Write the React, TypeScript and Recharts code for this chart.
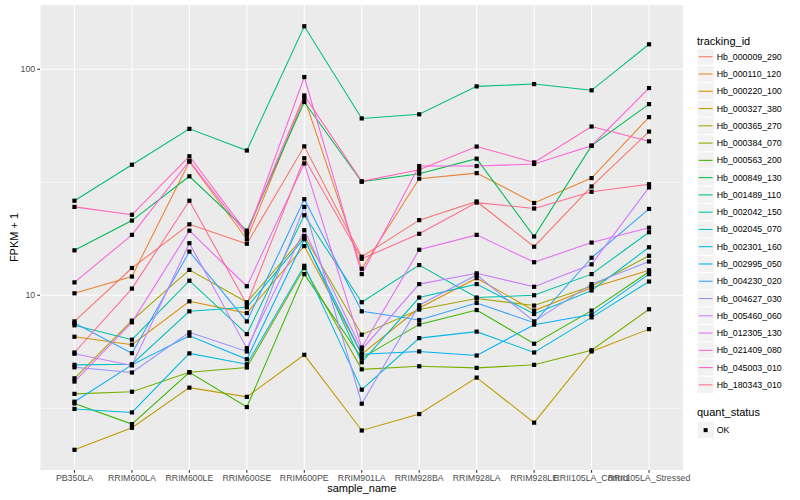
import React from "react";
import {
  LineChart,
  Line,
  XAxis,
  YAxis,
  CartesianGrid,
  Label,
} from "recharts";

const categories = [
  "PB350LA",
  "RRIM600LA",
  "RRIM600LE",
  "RRIM600SE",
  "RRIM600PE",
  "RRIM901LA",
  "RRIM928BA",
  "RRIM928LA",
  "RRIM928LE",
  "RRII105LA_Control",
  "RRII105LA_Stressed",
];

const trackingIds = [
  "Hb_000009_290",
  "Hb_000110_120",
  "Hb_000220_100",
  "Hb_000327_380",
  "Hb_000365_270",
  "Hb_000384_070",
  "Hb_000563_200",
  "Hb_000849_130",
  "Hb_001489_110",
  "Hb_002042_150",
  "Hb_002045_070",
  "Hb_002301_160",
  "Hb_002995_050",
  "Hb_004230_020",
  "Hb_004627_030",
  "Hb_005460_060",
  "Hb_012305_130",
  "Hb_021409_080",
  "Hb_045003_010",
  "Hb_180343_010",
];

const hb000009_290 = [7.66, 13.2, 20.6, 16.9, 45.6, 14.8, 21.5, 26.0, 16.4, 30.3, 53.0];
const hb000110_120 = [10.2, 12.1, 39.0, 17.7, 74.8, 13.1, 32.8, 34.7, 25.6, 33.0, 61.4];
const hb000220_100 = [6.55, 6.04, 9.4, 8.34, 16.5, 5.48, 8.78, 11.9, 8.55, 10.8, 12.9];
const hb000327_380 = [2.07, 2.59, 3.9, 3.55, 5.45, 2.52, 2.98, 4.32, 2.73, 5.64, 7.08];
const hb000365_270 = [4.29, 7.72, 12.95, 9.31, 18.3, 6.69, 8.64, 9.67, 9.0, 10.96, 14.95];
const hb000384_070 = [3.66, 3.74, 4.56, 4.79, 13.2, 4.7, 4.85, 4.77, 4.92, 5.71, 8.67];
const hb000563_200 = [3.32, 2.69, 4.56, 3.2, 12.4, 5.27, 7.43, 8.6, 6.1, 8.55, 12.7];
const hb000849_130 = [15.8, 21.4, 33.6, 19.3, 71.6, 31.8, 34.5, 40.2, 18.2, 45.9, 70.1];
const hb001489_110 = [26.2, 37.8, 54.5, 43.7, 155, 60.6, 63.2, 84, 86, 80.7, 129];
const hb002042_150 = [7.36, 6.36, 11.6, 6.73, 22.6, 9.31, 13.6, 9.77, 10.0, 12.4, 19.0];
const hb002045_070 = [4.92, 4.95, 8.49, 8.84, 17.9, 5.05, 9.77, 11.2, 8.26, 10.5, 16.3];
const hb002301_160 = [3.14, 3.03, 5.53, 4.95, 13.5, 3.82, 6.46, 6.9, 5.58, 7.98, 11.5];
const hb002995_050 = [3.38, 4.92, 6.62, 5.21, 17.7, 5.48, 5.64, 5.41, 7.41, 8.21, 12.4];
const hb004230_020 = [7.53, 5.54, 15.6, 7.66, 26.6, 8.49, 7.77, 9.24, 7.56, 14.65, 24.1];
const hb004627_030 = [4.8, 4.55, 6.85, 5.64, 24.6, 3.31, 9.03, 12.3, 7.66, 11.2, 14.1];
const hb005460_060 = [5.51, 4.89, 17.0, 5.83, 19.4, 5.74, 11.2, 12.5, 10.9, 13.7, 30.0];
const hb012305_130 = [4.15, 7.59, 19.3, 10.96, 38.3, 5.87, 15.9, 18.5, 14.0, 17.1, 19.9];
const hb021409_080 = [11.4, 18.5, 39.3, 18.5, 92.4, 12.4, 37.3, 37.3, 38.1, 45.9, 82.6];
const hb045003_010 = [24.6, 22.7, 41.2, 18.9, 76.6, 31.9, 35.9, 45.5, 38.7, 55.8, 48.0];
const hb180343_010 = [5.58, 10.7, 26.2, 9.12, 40.4, 14.5, 18.7, 25.7, 24.2, 28.7, 31.0];

const seriesValues = [
  hb000009_290,
  hb000110_120,
  hb000220_100,
  hb000327_380,
  hb000365_270,
  hb000384_070,
  hb000563_200,
  hb000849_130,
  hb001489_110,
  hb002042_150,
  hb002045_070,
  hb002301_160,
  hb002995_050,
  hb004230_020,
  hb004627_030,
  hb005460_060,
  hb012305_130,
  hb021409_080,
  hb045003_010,
  hb180343_010,
];

const colors = [
  "#F8766D",
  "#EA8331",
  "#D89000",
  "#C09B00",
  "#A3A500",
  "#7CAE00",
  "#39B600",
  "#00BB4E",
  "#00BF7D",
  "#00C1A3",
  "#00BFC4",
  "#00BAE0",
  "#00B0F6",
  "#35A2FF",
  "#9590FF",
  "#C77CFF",
  "#E76BF3",
  "#FA62DB",
  "#FF62BC",
  "#FF6C91",
];

const yTicks = [10, 100];
const yMinor = [3.1623, 31.623];
const quantStatus = ["OK"];

const data = categories.map((name, i) => {
  const row: Record<string, number | string> = { idx: i, name };
  trackingIds.forEach((id, s) => {
    row[id] = seriesValues[s][i];
  });
  return row;
});

const FONT = '"Liberation Sans", Arial, Helvetica, sans-serif';

const SquareDot = (props: any) => {
  const { cx, cy } = props;
  if (cx == null || cy == null) return null;
  return <rect x={cx - 2.1} y={cy - 2.1} width={4.2} height={4.2} fill="#000" />;
};

const LegendPanel = () => {
  const keyH = 17.27;
  const top = 48.1;
  return (
    <svg width={110} height={500} style={{ position: "absolute", left: 690, top: 0, display: "block", fontFamily: FONT }}>
      <text x={7} y={40.7} fontSize={11} dominantBaseline="central" fill="#000">
        tracking_id
      </text>
      {trackingIds.map((id, i) => {
        const y = top + keyH * i;
        return (
          <g key={id}>
            <rect x={7} y={y} width={keyH} height={keyH} fill="#F2F2F2" stroke="#FFFFFF" strokeWidth={1} />
            <line x1={8.7} x2={22.6} y1={y + keyH / 2} y2={y + keyH / 2} stroke={colors[i]} strokeWidth={1.07} />
            <text x={26.7} y={y + keyH / 2} fontSize={8.8} dominantBaseline="central" fill="#000">
              {id}
            </text>
          </g>
        );
      })}
      <text x={7} y={412.3} fontSize={11} dominantBaseline="central" fill="#000">
        quant_status
      </text>
      {quantStatus.map((q, i) => {
        const y = 421.5 + keyH * i;
        return (
          <g key={q}>
            <rect x={7} y={y} width={keyH} height={keyH} fill="#F2F2F2" stroke="#FFFFFF" strokeWidth={1} />
            <rect x={7 + keyH / 2 - 2} y={y + keyH / 2 - 2} width={4} height={4} fill="#000" />
            <text x={26.7} y={y + keyH / 2} fontSize={8.8} dominantBaseline="central" fill="#000">
              {q}
            </text>
          </g>
        );
      })}
    </svg>
  );
};

export default function App() {
  return (
    <div style={{ position: "absolute", left: 0, top: 0, width: 800, height: 500, background: "#fff", fontFamily: FONT }}>
      <LineChart
        width={800}
        height={500}
        data={data}
        margin={{ top: 5, right: 116.5, bottom: 0, left: 0 }}
        style={{ fontFamily: FONT }}
      >
        <CartesianGrid
          fill="#EBEBEB"
          stroke="#FFFFFF"
          strokeWidth={0.55}
          vertical={false}
          horizontalValues={yMinor}
        />
        <CartesianGrid
          stroke="#FFFFFF"
          strokeWidth={1.07}
          horizontalValues={yTicks}
        />
        <XAxis
          dataKey="idx"
          type="number"
          domain={[-0.6, 10.6]}
          ticks={categories.map((_, i) => i)}
          interval={0}
          tickFormatter={(v: number) => categories[v] ?? ""}
          axisLine={false}
          tickLine={{ stroke: "#333333", strokeWidth: 1.07 }}
          tickSize={2.75}
          tickMargin={2}
          height={30}
          tick={{ fontSize: 8.8, fill: "#4D4D4D", fontFamily: FONT }}
          allowDataOverflow
        >
          <Label value="sample_name" position="insideBottom" offset={8.5} style={{ fontSize: 11, fill: "#000", fontFamily: FONT }} />
        </XAxis>
        <YAxis
          scale="log"
          domain={[1.685, 192.5]}
          ticks={yTicks}
          allowDataOverflow
          axisLine={false}
          tickLine={{ stroke: "#333333", strokeWidth: 1.07 }}
          tickSize={2.75}
          tickMargin={2}
          width={40}
          tick={{ fontSize: 8.8, fill: "#4D4D4D", fontFamily: FONT }}
        >
          <Label
            value="FPKM + 1"
            angle={-90}
            position="insideLeft"
            offset={14}
            style={{ fontSize: 11, fill: "#000", textAnchor: "middle", fontFamily: FONT }}
          />
        </YAxis>
        {trackingIds.map((id, i) => (
          <Line
            key={id}
            type="linear"
            dataKey={id}
            stroke={colors[i]}
            strokeWidth={1.07}
            dot={false}
            activeDot={false}
            isAnimationActive={false}
            legendType="none"
          />
        ))}
        {trackingIds.map((id) => (
          <Line
            key={id + "_pts"}
            type="linear"
            dataKey={id}
            stroke="none"
            dot={<SquareDot />}
            activeDot={false}
            isAnimationActive={false}
            legendType="none"
          />
        ))}
      </LineChart>
      <LegendPanel />
    </div>
  );
}
